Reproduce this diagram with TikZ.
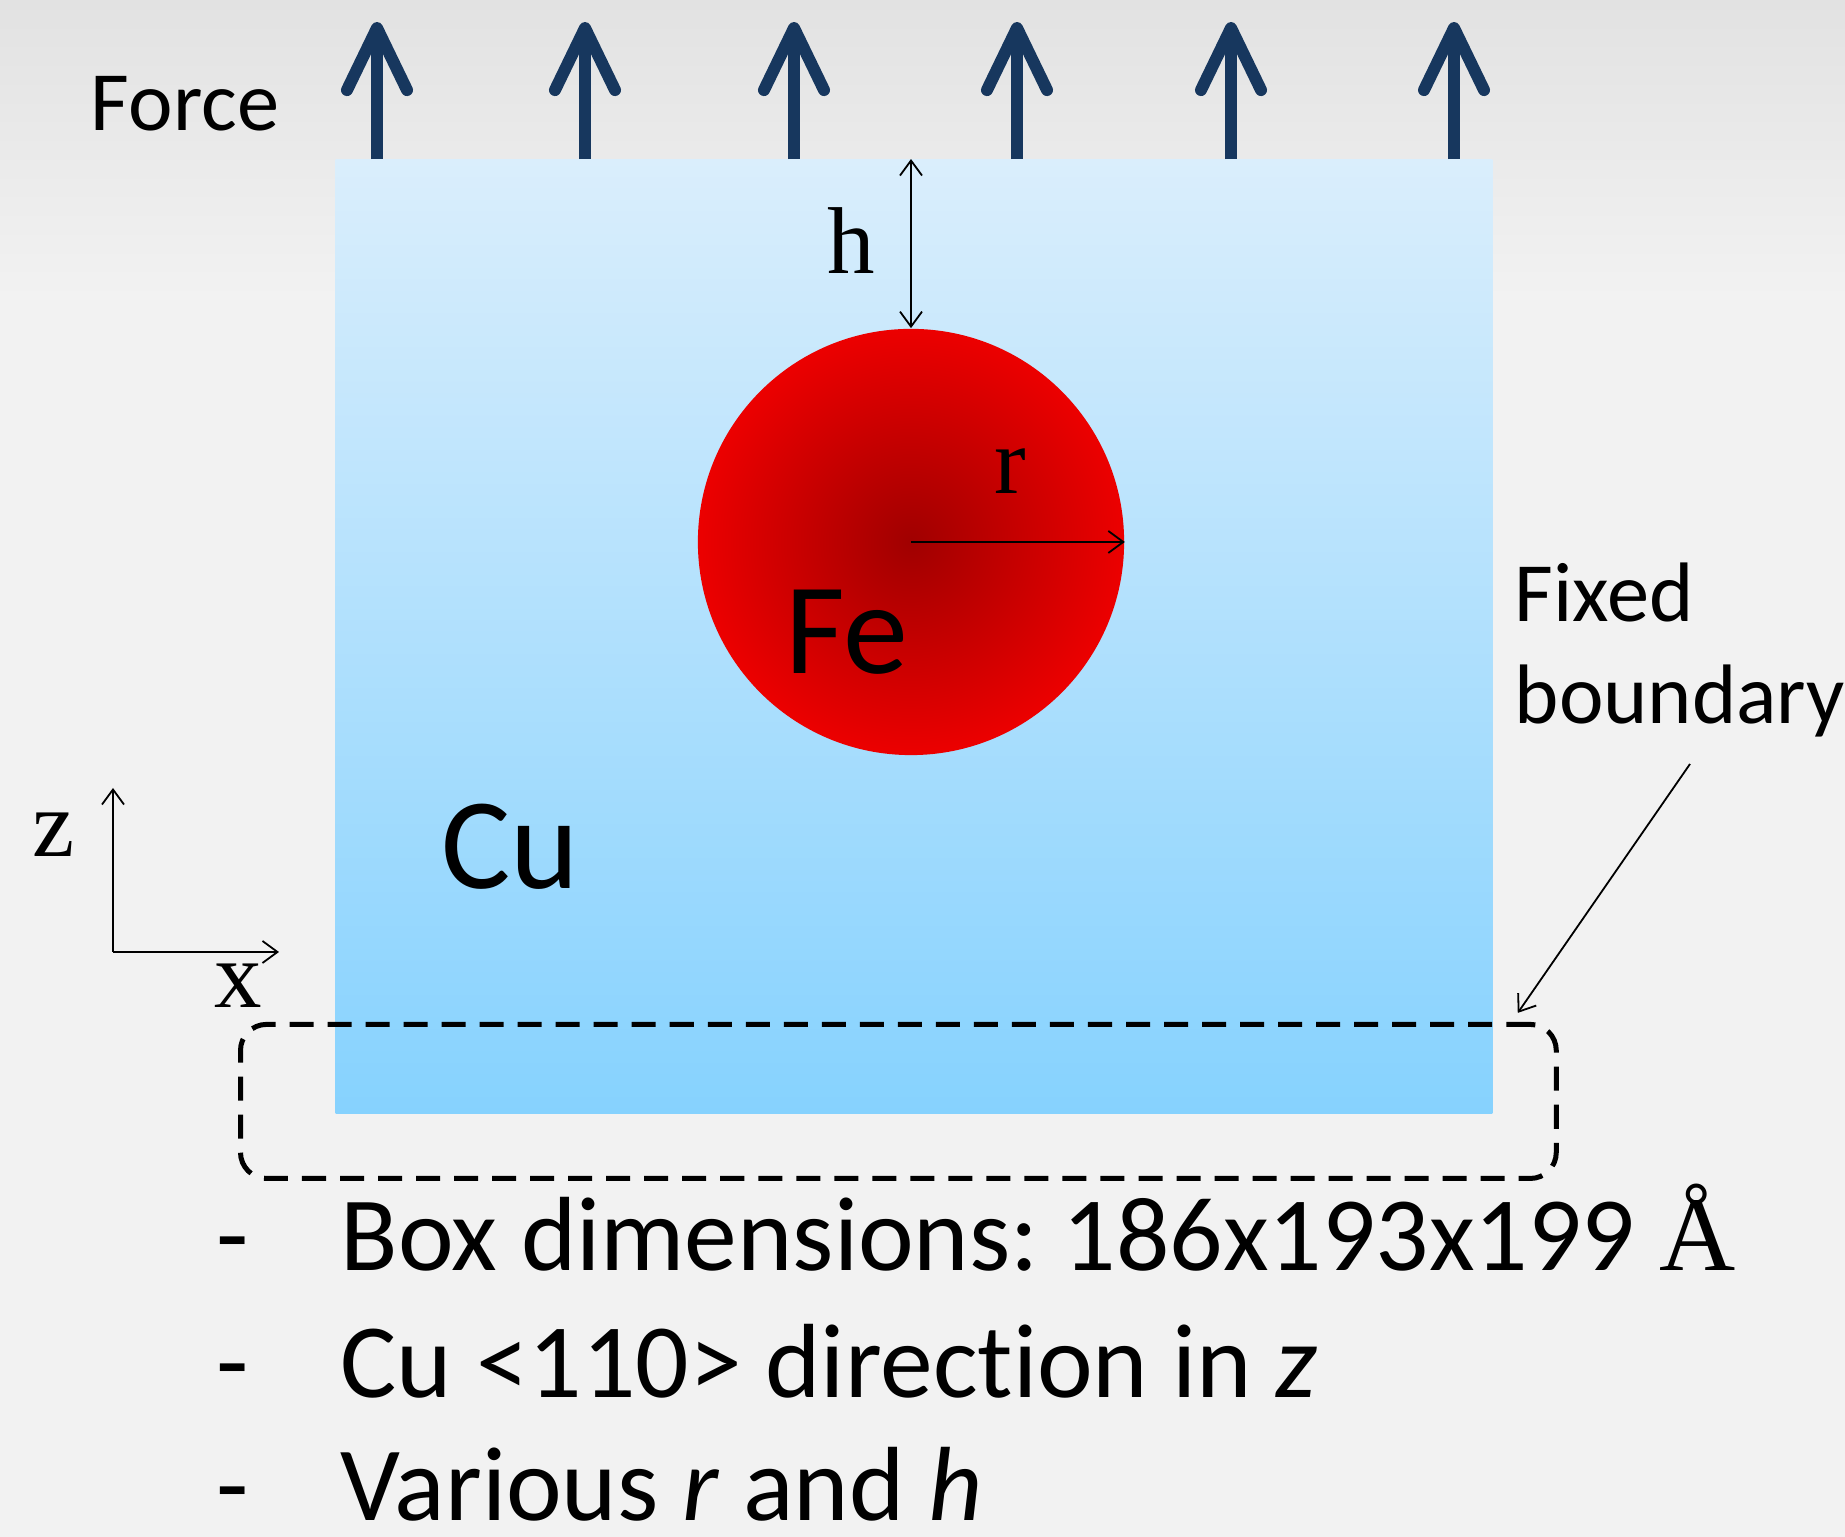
\documentclass[tikz,border=0pt]{standalone}
\usepackage{fontspec}
\setmainfont{Carlito}[Ligatures=NoCommon]
\newfontfamily\serifface{Liberation Serif}
\usetikzlibrary{positioning, arrows.meta, calc}
\definecolor{forceblue}{RGB}{23,55,94}
\definecolor{cutop}{RGB}{218,238,252}
\definecolor{cubottom}{RGB}{134,210,254}
\definecolor{fedark}{RGB}{160,0,0}
\definecolor{fered}{RGB}{236,0,0}
\definecolor{slidegray}{RGB}{242,242,242}
\definecolor{slidetop}{RGB}{226,226,226}
\frenchspacing

\begin{document}
\begin{tikzpicture}[x=0.01cm, y=0.01cm,
    force/.style={line width=0.12cm, forceblue, -{Straight Barb[length=0.62cm, width=0.6cm, round]}},
    dim/.style={line width=0.018cm, {Straight Barb[length=0.15cm, width=0.22cm]}-{Straight Barb[length=0.15cm, width=0.22cm]}},
    thin arrow/.style={line width=0.018cm, -{Straight Barb[length=0.15cm, width=0.22cm]}},
    letter/.style={font=\serifface\fontsize{27}{32}\selectfont, inner sep=0pt},
    item/.style={font=\fontsize{30}{36}\selectfont, anchor=base west, inner sep=0pt}]
    % Slide background
    \fill[slidegray] (0,0) rectangle (1845,1537);
    \shade[top color=slidetop, bottom color=slidegray] (0,1237) rectangle (1845,1537);
    \useasboundingbox (0,0) rectangle (1845,1537);

    % Cu block and Fe precipitate
    \node[anchor=south west, inner sep=0pt, minimum width=11.56cm, minimum height=9.53cm,
          top color=cutop, bottom color=cubottom] (CuBox) at (335,423) {};
    \node[circle, inner sep=0pt, minimum size=4.26cm, inner color=fedark, outer color=fered] (Fe) at (911,995) {};
    \node[font=\fontsize{37}{44}\selectfont] (FeLabel) at (847,905) {Fe};
    \node[font=\fontsize{37}{44}\selectfont] (CuLabel) at (510,690) {Cu};

    % Applied force on top face
    \node[font=\fontsize{24}{29}\selectfont] (Force) at (185,1433) {Force};
    \foreach \x in {377,585,794,1017,1231,1454}
        \draw[force] (CuBox.north west -| \x,0) -- ++(0,137);

    % Depth h and radius r
    \draw[dim] (CuBox.north -| Fe.north) -- (Fe.north);
    \node[letter] (H) at (851,1296) {h};
    \draw[thin arrow] (Fe.center) -- (Fe.east);
    \node[letter] (R) at (1010,1066) {r};

    % Axes
    \coordinate (Origin) at (113,585);
    \coordinate (ZTip) at (113,749);
    \coordinate (XTip) at (279,585);
    \draw[thin arrow] (Origin) -- (ZTip);
    \draw[thin arrow] (Origin) -- (XTip);
    \node[letter] (Z) at (54,702) {z};
    \node[letter] (X) at (238,551) {x};

    % Fixed boundary region
    \node[draw, line width=0.05cm, dash pattern=on 0.24cm off 0.14cm, rounded corners=0.26cm,
          anchor=south west, inner sep=0pt, minimum width=13.15cm, minimum height=1.54cm] (FixedZone) at (238,356) {};
    \node[font=\fontsize{24}{29}\selectfont, align=left, anchor=west, inner sep=0pt] (Fixed) at (1514,887) {Fixed\\boundary};
    \coordinate (PointerStart) at (1690,773);
    \draw[thin arrow] (PointerStart) -- ($(FixedZone.north east)+(-41,9)$);

    % Notes
    \foreach \y in {266,139,16}
        \node[item, anchor=base] at (233,\y) {-};
    \node[item] (Dims) at (340,266) {Box dimensions: 186x193x199 {\serifface Å}};
    \node[item] (Dir) at (340,139) {Cu <110> direction in \textit{z}};
    \node[item] (Vary) at (340,16) {Various \textit{r} and \textit{h}};
\end{tikzpicture}
\end{document}
